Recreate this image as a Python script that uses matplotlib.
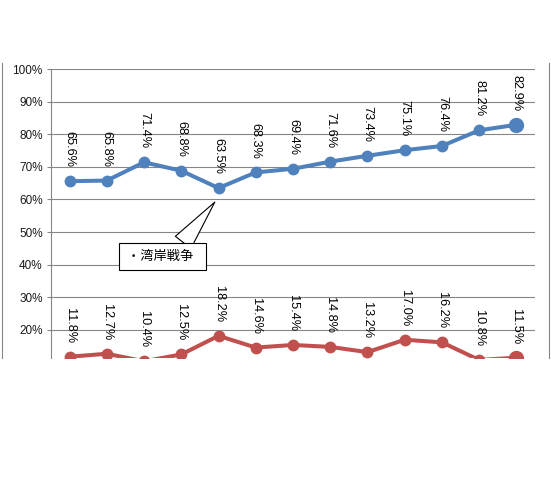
import matplotlib
matplotlib.use("Agg")
import matplotlib.pyplot as plt
from matplotlib.lines import Line2D

plt.rcParams['font.family'] = ['Liberation Sans', 'Noto Sans CJK JP', 'DejaVu Sans']

# Values (percent)
categories = list(range(13))
blue_values = [65.6, 65.8, 71.4, 68.8, 63.5, 68.3, 69.4, 71.6, 73.4, 75.1, 76.4, 81.2, 82.9]
red_values = [11.8, 12.7, 10.4, 12.5, 18.2, 14.6, 15.4, 14.8, 13.2, 17.0, 16.2, 10.8, 11.5]
y_ticks = [20, 30, 40, 50, 60, 70, 80, 90, 100]
callout_text = "・湾岸戦争"

blue = "#4F81BD"
red = "#C0504D"
grid_col = "#868686"

fig = plt.figure(figsize=(5.51, 4.82), dpi=100)
ax = fig.add_axes([51 / 551, 124 / 482, 484 / 551, 289 / 482])

for vals, col in [(blue_values, blue), (red_values, red)]:
    ax.plot(categories, vals, color=col, lw=2.9, marker="o", ms=7.5, zorder=3)
    # last point drawn bigger
    ax.plot(categories[-1:], vals[-1:], color=col, marker="o", ms=10, ls="none", zorder=4)
    for x, v in zip(categories, vals):
        ax.annotate(f"{v:.1f}%", (x, v), xytext=(0, 10), textcoords="offset points",
                    ha="center", va="bottom", rotation=-90, fontsize=9.2,
                    color="black", annotation_clip=False)

ax.set_xlim(-0.5, len(categories) - 0.5)
ax.set_ylim(11.4, 100)
ax.set_yticks(y_ticks)
ax.set_yticklabels([f"{t}%" for t in y_ticks], fontsize=8.5, color="#1a1a1a")
ax.set_xticks([])
ax.yaxis.grid(True, color=grid_col, lw=0.8)
ax.set_axisbelow(True)
for s in ["top", "right", "bottom"]:
    ax.spines[s].set_visible(False)
ax.spines["left"].set_color(grid_col)
ax.spines["left"].set_linewidth(0.8)
ax.tick_params(axis="y", length=3, color=grid_col, pad=3)

# callout for the Gulf war dip
ax.annotate(callout_text + "  ", xy=(3.9, 59.2), xytext=(2.5, 42.5), textcoords="data",
            fontsize=9.5, family=["Noto Sans CJK JP", "DejaVu Sans"],
            ha="center", va="center",
            bbox=dict(boxstyle="square,pad=0.55", fc="white", ec="black", lw=0.8),
            arrowprops=dict(arrowstyle="wedge,tail_width=1.5", fc="white", ec="black",
                            lw=0.8, relpos=(0.7, 1.0), shrinkA=0, shrinkB=0),
            zorder=5)

# chart-area border pieces
fig.add_artist(Line2D([2 / 551, 2 / 551], [1 - 63 / 482, 1 - 358 / 482], color=grid_col, lw=0.8))
fig.add_artist(Line2D([549 / 551, 549 / 551], [1 - 63 / 482, 1 - 358 / 482], color=grid_col, lw=0.8))

fig.savefig("out.png", dpi=100, facecolor="white")
